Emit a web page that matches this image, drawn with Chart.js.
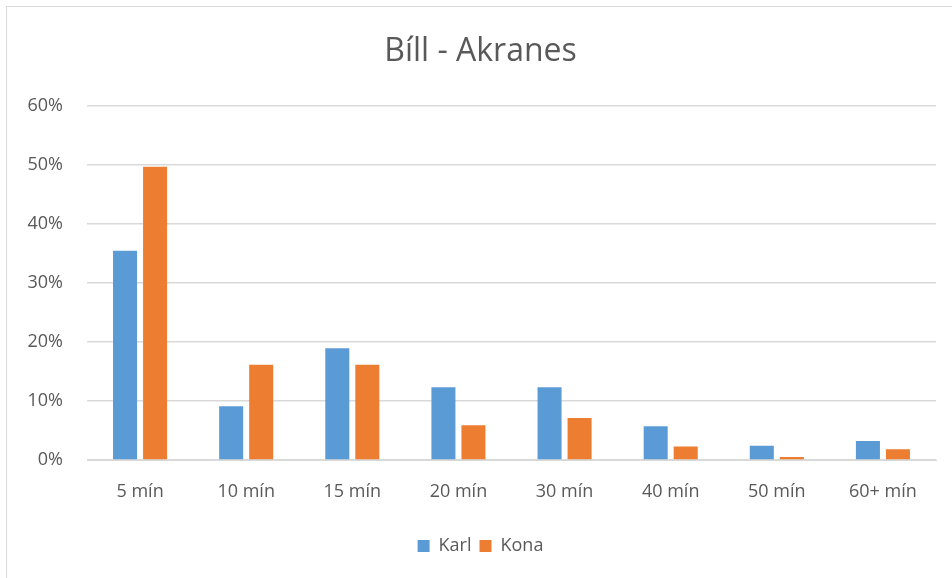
<!DOCTYPE html>
<html>
<head>
<meta charset="utf-8">
<script src="https://cdn.jsdelivr.net/npm/chart.js@4.4.1/dist/chart.umd.min.js"></script>
<style>
    html, body { margin: 0; padding: 0; background: #fff; overflow: hidden; }
    #frame { position: absolute; left: 6px; top: 6px; width: 960px; height: 600px; border: 1px solid #d9d9d9; }
    #wrap { position: absolute; left: 0; top: 0; width: 952px; height: 578px; }
</style>
</head>
<body>
<div id="frame"></div>
<div id="wrap"><canvas id="chart"></canvas></div>
<script>
// gögn
const categories = ["5 mín", "10 mín", "15 mín", "20 mín", "30 mín", "40 mín", "50 mín", "60+ mín"];
const karl = [35.4, 9.1, 18.9, 12.3, 12.3, 5.7, 2.4, 3.2];
const kona = [49.6, 16.1, 16.1, 5.9, 7.1, 2.3, 0.5, 1.8];
const yTicks = [0, 10, 20, 30, 40, 50, 60];

const textColor = "#595959";
const fontFamily = "'Open Sans', Lato, sans-serif";

const ctx = document.getElementById("chart").getContext("2d");
const chart = new Chart(ctx, {
    type: "bar",
    data: {
        labels: categories,
        datasets: [{
            label: "Karl",
            data: karl,
            backgroundColor: "#5B9BD5",
            categoryPercentage: 0.566,
            barPercentage: 0.8,
        }, {
            label: "Kona",
            data: kona,
            backgroundColor: "#ED7D31",
            categoryPercentage: 0.566,
            barPercentage: 0.8,
        }],
    },
    options: {
        responsive: true,
        maintainAspectRatio: false,
        animation: false,
        layout: {
            padding: { left: 25, right: 16, top: 0, bottom: 13 },
        },
        plugins: {
            title: {
                display: true,
                text: "Bíll - Akranes",
                color: textColor,
                font: { family: fontFamily, size: 32, weight: "normal" },
                padding: { top: 33, bottom: 34 },
            },
            legend: {
                position: "bottom",
                labels: {
                    color: textColor,
                    font: { family: fontFamily, size: 18 },
                    boxWidth: 12,
                    boxHeight: 12,
                    padding: 8,
                },
            },
            tooltip: { enabled: false },
        },
        scales: {
            x: {
                grid: { display: false },
                border: { color: "#d9d9d9" },
                afterFit: (scale) => {
                    scale.height = 69;
                },
                ticks: {
                    color: textColor,
                    font: { family: fontFamily, size: 18 },
                    padding: 13,
                    maxRotation: 0,
                },
            },
            y: {
                min: 0,
                max: 60,
                afterBuildTicks: (scale) => {
                    scale.ticks = yTicks.map((v) => ({ value: v }));
                },
                afterFit: (scale) => {
                    scale.width = 62;
                },
                grid: { color: "#d9d9d9", lineWidth: 1.5, drawTicks: false },
                border: { display: false },
                ticks: {
                    color: textColor,
                    font: { family: fontFamily, size: 18 },
                    padding: 24,
                    callback: (v) => v + "%",
                },
            },
        },
    },
});
</script>
</body>
</html>
